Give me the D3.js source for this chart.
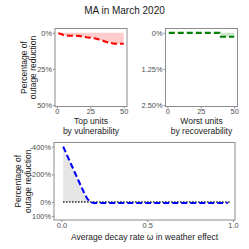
<!DOCTYPE html>
<html>
<head>
<meta charset="utf-8">
<script src="https://cdn.jsdelivr.net/npm/d3@7"></script>
<style>
  body { margin: 0; background: #fff; }
  svg { display: block; font-family: "Liberation Sans", Arial, sans-serif; }
  .tick text { fill: #4d4d4d; font-size: 7.4px; }
  .tick line { stroke: #8c8c8c; }
  .domain { display: none; }
</style>
</head>
<body>
<div id="chart"></div>
<script>
// top-left: top units by vulnerability (reduction in %)
const vulnUnits = [1, 3, 5, 7, 10, 13, 16, 19, 22, 25, 28, 31, 34, 37, 40, 43, 46, 50];
const vulnValues = [0.3, 0.8, 1.5, 1.9, 2.0, 2.0, 2.1, 2.5, 3.0, 3.4, 3.8, 4.5, 5.3, 6.3, 7.0, 7.5, 7.6, 7.6];

// top-right: worst units by recoverability
const recovUnits = [1, 5, 10, 15, 20, 25, 30, 35, 39, 40, 45, 50];
const recovValues = [0, 0, 0, 0, 0, 0, 0, 0, 0, 0.135, 0.135, 0.135];

// bottom: average decay rate omega
const omegas = [0.01, 0.03, 0.05, 0.07, 0.09, 0.11, 0.13, 0.15, 0.17, 0.19, 0.25, 0.35, 0.45, 0.55, 0.65, 0.75, 0.85, 0.97];
const omegaValues = [-400, -345, -290, -235, -180, -125, -72, -24, 3, 7, 7, 7, 7, 7, 7, 7, 7, 7];

const vulnTicks = [0, 25, 50];
const vulnYTicks = [0, 25, 50];
const recovYTicks = [0, 1.25, 2.5];
const omegaTicks = [0, 0.5, 1.0];
const omegaYTicks = [-400, -200, 0, 100];

const W = 249, H = 249;
const svg = d3.select("#chart").append("svg")
  .attr("width", W).attr("height", H);

svg.append("text")
  .attr("x", 124.5).attr("y", 13.5)
  .attr("text-anchor", "middle")
  .attr("font-size", 10)
  .attr("fill", "#1a1a1a")
  .text("MA in March 2020");

function drawPanel(opt) {
  const x = d3.scaleLinear().domain(opt.xDomain).range([opt.left, opt.right]);
  const y = d3.scaleLinear().domain(opt.yDomain).range([opt.top, opt.bottom]);
  const g = svg.append("g");

  const data = opt.xs.map((d, i) => ({ x: d, v: opt.vs[i] }));

  // shaded area between zero and the line
  const area = d3.area()
    .x(d => x(d.x))
    .y0(y(0))
    .y1(d => y(opt.clip ? Math.min(d.v, 0) : d.v));
  g.append("path")
    .datum(data)
    .attr("d", area)
    .attr("fill", opt.fill);

  if (opt.zeroLine) {
    g.append("line")
      .attr("x1", x(d3.min(opt.xs))).attr("x2", x(0.985))
      .attr("y1", y(0)).attr("y2", y(0))
      .attr("stroke", "#000")
      .attr("stroke-width", 1.4)
      .attr("stroke-dasharray", "1.3,1.7");
  }

  g.append("path")
    .datum(data)
    .attr("d", d3.line().x(d => x(d.x)).y(d => y(d.v)))
    .attr("fill", "none")
    .attr("stroke", opt.color)
    .attr("stroke-width", 2.1)
    .attr("stroke-dasharray", opt.dash);

  // frame
  g.append("rect")
    .attr("x", opt.left).attr("y", opt.top)
    .attr("width", opt.right - opt.left)
    .attr("height", opt.bottom - opt.top)
    .attr("fill", "none")
    .attr("stroke", "#8c8c8c")
    .attr("stroke-width", 1);

  g.append("g")
    .attr("transform", `translate(0,${opt.bottom})`)
    .call(d3.axisBottom(x).tickValues(opt.xTicks).tickSize(2).tickPadding(0.5)
      .tickFormat(opt.xFormat));

  g.append("g")
    .attr("transform", `translate(${opt.left},0)`)
    .call(d3.axisLeft(y).tickValues(opt.yTicks).tickSize(2).tickPadding(1)
      .tickFormat(opt.yFormat));

  const cx = (opt.left + opt.right) / 2;
  opt.xTitle.forEach((t, i) => {
    g.append("text")
      .attr("x", cx).attr("y", opt.xTitleY + i * 10)
      .attr("text-anchor", "middle")
      .attr("font-size", 8.5)
      .attr("fill", "#1a1a1a")
      .text(t);
  });

  if (opt.yTitleX) {
    const cy = (opt.top + opt.bottom) / 2;
    ["Percentage of", "outage reduction"].forEach((t, i) => {
      g.append("text")
        .attr("transform", `translate(${opt.yTitleX + i * 9.5},${cy}) rotate(-90)`)
        .attr("text-anchor", "middle")
        .attr("font-size", 8.5)
        .attr("fill", "#1a1a1a")
        .text(t);
    });
  }
}

drawPanel({
  left: 55, right: 127, top: 28.5, bottom: 106.5,
  xDomain: [-1.45, 52.45], yDomain: [-3, 51],
  xs: vulnUnits, vs: vulnValues,
  color: "#ff0000", fill: "#ffcccc", dash: "6,3",
  xTicks: vulnTicks, yTicks: vulnYTicks,
  xFormat: d3.format("d"), yFormat: d => d + "%",
  xTitle: ["Top units", "by vulnerability"], xTitleY: 124,
  yTitleX: 26.5
});

drawPanel({
  left: 165.5, right: 237.5, top: 28.5, bottom: 106.5,
  xDomain: [-1.45, 52.45], yDomain: [-0.15, 2.55],
  xs: recovUnits, vs: recovValues,
  color: "#008000", fill: "#cce6cc", dash: "6,3",
  xTicks: vulnTicks, yTicks: recovYTicks,
  xFormat: d3.format("d"), yFormat: d => d === 0 ? "0%" : d3.format(".2f")(d) + "%",
  xTitle: ["Worst units", "by recoverability"], xTitleY: 124,
  yTitleX: null
});

drawPanel({
  left: 54, right: 235, top: 142.5, bottom: 220,
  xDomain: [-0.0436, 1.0116], yDomain: [-430, 130],
  xs: omegas, vs: omegaValues, clip: true, zeroLine: true,
  color: "#0000ff", fill: "#e5e5e5", dash: "6,3",
  xTicks: omegaTicks, yTicks: omegaYTicks,
  xFormat: d3.format(".1f"), yFormat: d => d + "%",
  xTitle: ["Average decay rate ω in weather effect"], xTitleY: 239.5,
  yTitleX: 21
});
</script>
</body>
</html>
